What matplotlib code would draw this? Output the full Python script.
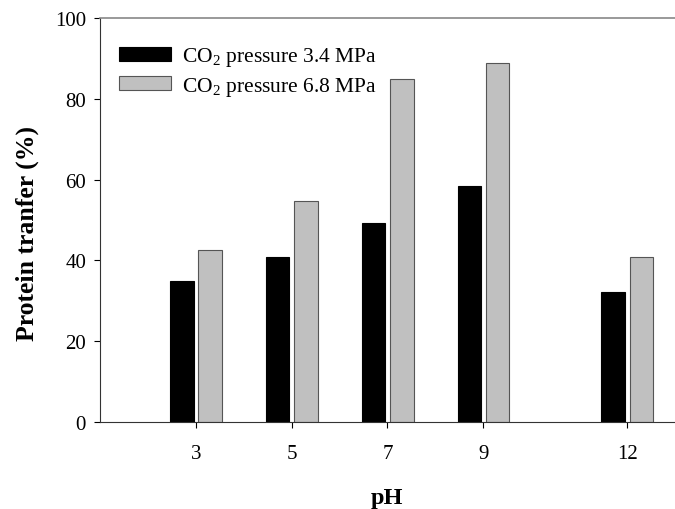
import numpy as np
import matplotlib
matplotlib.use("Agg")
from matplotlib import pyplot as plt

ph = np.array([3, 5, 7, 9, 12])
low_pressure = [35.0, 40.8, 49.2, 58.3, 32.3]
high_pressure = [42.6, 54.8, 85.0, 88.8, 40.8]
series_labels = ["CO$_2$ pressure 3.4 MPa", "CO$_2$ pressure 6.8 MPa"]

plt.rcParams["font.family"] = ["Liberation Serif", "DejaVu Serif"]
plt.rcParams["mathtext.fontset"] = "custom"
plt.rcParams["mathtext.rm"] = "Liberation Serif"

fig = plt.figure(figsize=(6.75, 5.1), dpi=100)
ax = fig.add_axes([0.148, 0.1706, 0.852, 0.7921])

width = 0.49
ax.bar(ph - 0.29, low_pressure, width, color="black", edgecolor="black",
       linewidth=0.8, label=series_labels[0])
ax.bar(ph + 0.30, high_pressure, width, color="#c0c0c0", edgecolor="#555555",
       linewidth=0.8, label=series_labels[1])

ax.set_xlim(1, 13)
ax.set_ylim(0, 100)
ax.set_xticks(ph)
ax.set_yticks(np.arange(0, 101, 20))
ax.tick_params(axis="both", direction="out", length=4, width=0.8, labelsize=15)
ax.tick_params(axis="x", pad=12)
ax.tick_params(axis="y", pad=6)

ax.spines["right"].set_visible(False)
ax.spines["top"].set_color("#888888")
ax.spines["top"].set_linewidth(1.2)
ax.spines["left"].set_color("#333333")
ax.spines["bottom"].set_color("#333333")

ax.set_xlabel("pH", fontsize=17.5, fontweight="bold", labelpad=17)
ax.set_ylabel("Protein tranfer (%)", fontsize=18.5, fontweight="bold")
ax.yaxis.set_label_coords(-0.106, 0.47)

ax.legend(loc="upper left", bbox_to_anchor=(0.0, 0.98), frameon=False,
          fontsize=15.5, handlelength=2.4, handleheight=0.6, handletextpad=0.5,
          labelspacing=0.28)

fig.savefig("out.png", dpi=100)
